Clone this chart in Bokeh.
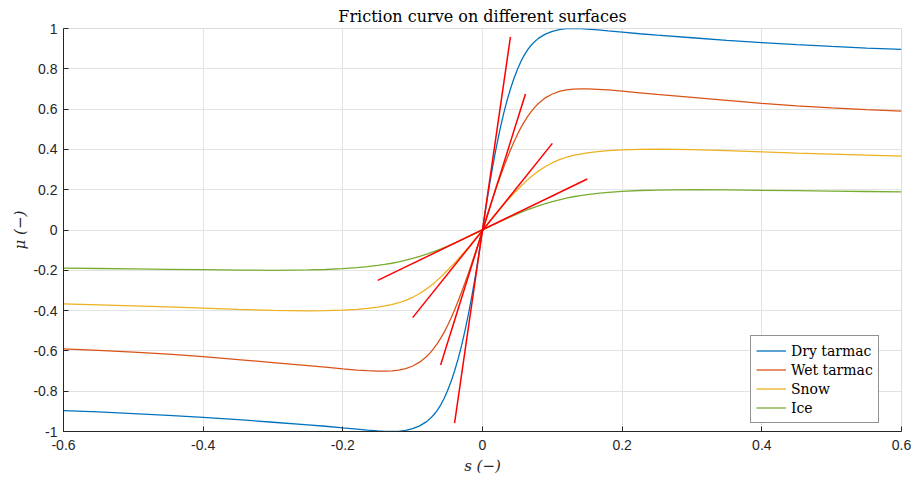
from bokeh.plotting import figure
from bokeh.models import Range1d, FixedTicker, ColumnDataSource
from bokeh.embed import file_html
from bokeh.resources import INLINE

# ---- data ----
s = [-0.6, -0.55, -0.5, -0.45, -0.4, -0.35, -0.3, -0.25, -0.225, -0.2, -0.18, -0.165, -0.15, -0.14,
     -0.13, -0.12, -0.11, -0.1, -0.09, -0.08, -0.075, -0.07, -0.065, -0.06, -0.055, -0.05, -0.045,
     -0.04, -0.035, -0.03, -0.025, -0.02, -0.015, -0.01, -0.005,
     0.0,
     0.005, 0.01, 0.015, 0.02, 0.025, 0.03, 0.035, 0.04, 0.045, 0.05, 0.055, 0.06, 0.065, 0.07,
     0.075, 0.08, 0.09, 0.1, 0.11, 0.12, 0.13, 0.14, 0.15, 0.165, 0.18, 0.2, 0.225, 0.25, 0.3,
     0.35, 0.4, 0.45, 0.5, 0.55, 0.6]

mu_dry = [-0.896, -0.903, -0.911, -0.92, -0.93, -0.941, -0.954, -0.967, -0.974, -0.982, -0.988, -0.993,
          -0.997, -0.999, -1.0, -0.999, -0.994, -0.986, -0.972, -0.951, -0.936, -0.918, -0.896, -0.869,
          -0.836, -0.797, -0.752, -0.70, -0.641, -0.574, -0.498, -0.415, -0.323, -0.224, -0.116,
          0.0,
          0.116, 0.224, 0.323, 0.415, 0.498, 0.574, 0.641, 0.70, 0.752, 0.797, 0.836, 0.869, 0.896,
          0.918, 0.936, 0.951, 0.972, 0.986, 0.994, 0.999, 1.0, 0.999, 0.997, 0.993, 0.988, 0.982,
          0.974, 0.967, 0.954, 0.941, 0.93, 0.92, 0.911, 0.903, 0.896]

mu_wet = [-0.59, -0.597, -0.606, -0.616, -0.628, -0.643, -0.658, -0.673, -0.681, -0.689, -0.695, -0.698,
          -0.7, -0.7, -0.699, -0.695, -0.688, -0.675, -0.656, -0.628, -0.61, -0.589, -0.565, -0.538,
          -0.508, -0.474, -0.437, -0.397, -0.354, -0.309, -0.262, -0.213, -0.162, -0.109, -0.055,
          0.0,
          0.055, 0.109, 0.162, 0.213, 0.262, 0.309, 0.354, 0.397, 0.437, 0.474, 0.508, 0.538, 0.565,
          0.589, 0.61, 0.628, 0.656, 0.675, 0.688, 0.695, 0.699, 0.7, 0.7, 0.698, 0.695, 0.689,
          0.681, 0.673, 0.658, 0.643, 0.628, 0.616, 0.606, 0.597, 0.59]

mu_snow = [-0.367, -0.372, -0.377, -0.382, -0.388, -0.394, -0.399, -0.401, -0.4, -0.398, -0.394, -0.389,
           -0.383, -0.377, -0.37, -0.361, -0.349, -0.334, -0.315, -0.292, -0.279, -0.265, -0.25, -0.234,
           -0.217, -0.2, -0.182, -0.164, -0.145, -0.125, -0.105, -0.085, -0.064, -0.043, -0.0215,
           0.0,
           0.0215, 0.043, 0.064, 0.085, 0.105, 0.125, 0.145, 0.164, 0.182, 0.2, 0.217, 0.234, 0.25,
           0.265, 0.279, 0.292, 0.315, 0.334, 0.349, 0.361, 0.37, 0.377, 0.383, 0.389, 0.394, 0.398,
           0.4, 0.401, 0.399, 0.394, 0.388, 0.382, 0.377, 0.372, 0.367]

mu_ice = [-0.189, -0.191, -0.193, -0.195, -0.197, -0.199, -0.2, -0.198, -0.196, -0.192, -0.187, -0.182,
          -0.176, -0.171, -0.165, -0.158, -0.15, -0.141, -0.131, -0.1198, -0.1138, -0.1075, -0.101,
          -0.0942, -0.0872, -0.08, -0.0725, -0.065, -0.057, -0.049, -0.041, -0.033, -0.0248, -0.0166,
          -0.0083,
          0.0,
          0.0083, 0.0166, 0.0248, 0.033, 0.041, 0.049, 0.057, 0.065, 0.0725, 0.08, 0.0872, 0.0942,
          0.101, 0.1075, 0.1138, 0.1198, 0.131, 0.141, 0.15, 0.158, 0.165, 0.171, 0.176, 0.182, 0.187,
          0.192, 0.196, 0.198, 0.2, 0.199, 0.197, 0.195, 0.193, 0.191, 0.189]

# red tangent (initial slope) lines, endpoints
tan_x0 = [-0.04, -0.06, -0.1, -0.15]
tan_y0 = [-0.958, -0.67, -0.435, -0.25]
tan_x1 = [0.04, 0.0615, 0.1, 0.15]
tan_y1 = [0.958, 0.675, 0.43, 0.253]

series_names = ["Dry tarmac", "Wet tarmac", "Snow", "Ice"]
series_colors = ["#0072BD", "#D95319", "#EDB120", "#77AC30"]

xticks = [-0.6, -0.4, -0.2, 0.0, 0.2, 0.4, 0.6]
xtick_labels = ["-0.6", "-0.4", "-0.2", "0", "0.2", "0.4", "0.6"]
yticks = [-1.0, -0.8, -0.6, -0.4, -0.2, 0.0, 0.2, 0.4, 0.6, 0.8, 1.0]
ytick_labels = ["-1", "-0.8", "-0.6", "-0.4", "-0.2", "0", "0.2", "0.4", "0.6", "0.8", "1"]

# ---- figure ----
p = figure(width=918, height=481, output_backend="svg", toolbar_location=None,
           x_range=Range1d(-0.6, 0.6), y_range=Range1d(-1, 1),
           min_border_left=63, min_border_right=17, min_border_top=28, min_border_bottom=50)
p.background_fill_color = "white"
p.border_fill_color = "white"
p.outline_line_color = "#DCDCDC"

p.title.text = "Friction curve on different surfaces"
p.title.align = "center"
p.title.text_font = "DejaVu Serif"
p.title.text_font_size = "16px"
p.title.text_font_style = "normal"
p.title.text_color = "black"
p.title.standoff = 5

for mu, name, col in zip([mu_dry, mu_wet, mu_snow, mu_ice], series_names, series_colors):
    p.line(s, mu, line_color=col, line_width=1.3, legend_label=name)

src = ColumnDataSource(dict(x0=tan_x0, y0=tan_y0, x1=tan_x1, y1=tan_y1))
p.segment(x0="x0", y0="y0", x1="x1", y1="y1", source=src, line_color="#FF0000", line_width=1.5)

# axes
for ax, ticks, labels in [(p.xaxis[0], xticks, xtick_labels), (p.yaxis[0], yticks, ytick_labels)]:
    ax.ticker = FixedTicker(ticks=ticks)
    ax.major_label_overrides = {t: l for t, l in zip(ticks, labels)}
    ax.minor_tick_line_color = None
    ax.major_tick_in = 5
    ax.major_tick_out = 0
    ax.axis_line_color = "#262626"
    ax.major_tick_line_color = "#262626"
    ax.major_label_text_font = "Liberation Sans"
    ax.major_label_text_font_size = "14px"
    ax.major_label_text_color = "#262626"
    ax.axis_label_text_font = "DejaVu Serif"
    ax.axis_label_text_font_style = "italic"
    ax.axis_label_text_font_size = "15px"
    ax.axis_label_text_color = "#262626"

p.xaxis.axis_label = "s (−)"
p.yaxis.axis_label = "μ (−)"
p.xaxis.major_label_standoff = 8
p.yaxis.major_label_standoff = 6
p.xaxis.axis_label_standoff = 4
p.yaxis.axis_label_standoff = 1

p.xgrid.ticker = FixedTicker(ticks=xticks)
p.ygrid.ticker = FixedTicker(ticks=yticks)
p.grid.grid_line_color = "#E3E3E3"
p.grid.grid_line_width = 1

# legend
lg = p.legend[0]
lg.location = (687, 8)
lg.margin = 0
lg.padding = 5
lg.spacing = 0
lg.label_height = 19
lg.glyph_height = 19
lg.glyph_width = 30
lg.label_standoff = 5
lg.label_text_font = "DejaVu Serif"
lg.label_text_font_size = "14px"
lg.label_text_color = "black"
lg.border_line_color = "#262626"
lg.border_line_width = 1
lg.background_fill_color = "white"
lg.background_fill_alpha = 1

open("out.html", "w").write(file_html(p, INLINE))
